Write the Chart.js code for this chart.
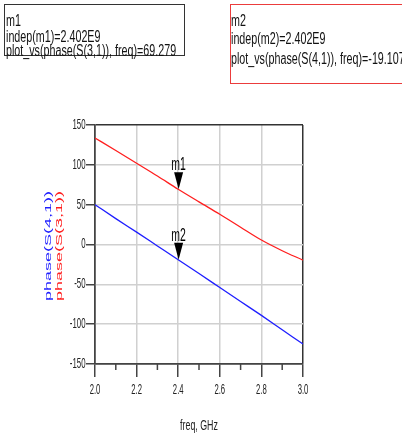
<!DOCTYPE html>
<html>
<head>
<meta charset="utf-8">
<script src="https://cdn.jsdelivr.net/npm/chart.js@4"></script>
<style>
  body { margin: 0; background: #fff; }
  #wrap { position: relative; width: 402px; height: 436px; overflow: hidden; }
  #chart { position: absolute; left: 0; top: 0; }
  .box { position: absolute; box-sizing: border-box; }
  .box div {
    position: absolute; white-space: nowrap; color: #111;
    font: 16px "Liberation Sans", Arial, sans-serif; line-height: 16px;
    transform: scaleX(0.67); transform-origin: 0 0;
  }
</style>
</head>
<body>
<div id="wrap">
  <canvas id="chart" width="402" height="436"></canvas>
  <div class="box" style="left:4px;top:4px;width:181px;height:52px;border:1.5px solid #333;">
    <div style="left:0.5px;top:8.2px">m1</div>
    <div style="left:0.5px;top:24.2px">indep(m1)=2.402E9</div>
    <div style="left:0.5px;top:38.2px">plot_vs(phase(S(3,1)), freq)=69.279</div>
  </div>
  <div class="box" style="left:230px;top:4px;width:200px;height:80px;border:1.5px solid rgb(235,60,60);">
    <div style="left:0;top:8.2px">m2</div>
    <div style="left:0;top:26.2px">indep(m2)=2.402E9</div>
    <div style="left:0;top:46.2px">plot_vs(phase(S(4,1)), freq)=-19.107</div>
  </div>
</div>
<script>
// frequency points (GHz) and the two traces
const freqs = [2.0, 2.1, 2.2, 2.3, 2.4, 2.5, 2.6, 2.7, 2.8, 2.9, 3.0];
const phaseS31 = [133.7, 118, 102, 86, 69.3, 53.5, 38, 21.7, 5.6, -7.8, -19.6];
const phaseS41 = [50, 32.5, 15.5, -1.8, -19.1, -36.5, -54, -71.5, -89, -107, -125];

const minorFreqTicks = [2.1, 2.3, 2.5, 2.7, 2.9];

const markerNames = ["m1", "m2"];
const markerFreqs = [2.402, 2.402];
const markerValues = [69.279, -19.107];

const RED = "rgb(255,30,30)";
const BLUE = "rgb(30,30,255)";
const FONT = '"Liberation Sans", Arial, sans-serif';

function squeezeText(ctx, text, x, y, sx, align) {
  ctx.save();
  ctx.translate(x, y);
  ctx.scale(sx, 1);
  ctx.textAlign = align;
  ctx.fillText(text, 0, 0);
  ctx.restore();
}

const adsPlugin = {
  id: "adsLook",
  afterDatasetsDraw(chart) {
    const ctx = chart.ctx;
    const xs = chart.scales.x;
    const ys = chart.scales.y;
    ctx.save();
    ctx.fillStyle = "#000";
    ctx.font = "19px " + FONT;
    ctx.textBaseline = "alphabetic";
    markerNames.forEach((name, i) => {
      const px = xs.getPixelForValue(markerFreqs[i]);
      const py = ys.getPixelForValue(markerValues[i]);
      ctx.beginPath();
      ctx.moveTo(px, py);
      ctx.lineTo(px - 4.5, py - 17);
      ctx.lineTo(px + 4.5, py - 17);
      ctx.closePath();
      ctx.fill();
      squeezeText(ctx, name, px, py - 19, 0.55, "center");
    });
    ctx.restore();
  },
  afterDraw(chart) {
    const ctx = chart.ctx;
    const xs = chart.scales.x;
    const ys = chart.scales.y;
    ctx.save();
    // minor ticks on the freq axis
    ctx.strokeStyle = "#444";
    ctx.lineWidth = 1.5;
    minorFreqTicks.forEach((f) => {
      const px = xs.getPixelForValue(f);
      ctx.beginPath();
      ctx.moveTo(px, ys.bottom);
      ctx.lineTo(px, ys.bottom + 6);
      ctx.stroke();
    });
    // tick labels
    ctx.fillStyle = "#222";
    ctx.font = "14px " + FONT;
    ctx.textBaseline = "middle";
    ys.ticks.forEach((t, i) => {
      squeezeText(ctx, String(t.value), xs.left - 9.5, ys.getPixelForTick(i), 0.56, "right");
    });
    xs.ticks.forEach((t, i) => {
      squeezeText(ctx, t.value.toFixed(1), xs.getPixelForTick(i), 390, 0.55, "center");
    });
    // axis titles
    ctx.font = "15px " + FONT;
    squeezeText(ctx, "freq, GHz", (xs.left + xs.right) / 2, 426, 0.59, "center");
    ctx.font = "18px " + FONT;
    [["phase(S(4,1))", BLUE, 48.4], ["phase(S(3,1))", RED, 58.9]].forEach(([txt, col, cx]) => {
      ctx.save();
      ctx.translate(cx, 246);
      ctx.rotate(-Math.PI / 2);
      ctx.scale(1, 0.55);
      ctx.fillStyle = col;
      ctx.textAlign = "center";
      ctx.fillText(txt, 0, 0);
      ctx.restore();
    });
    ctx.restore();
  },
};

const edge = (v, a, b) => Math.abs(v - a) < 1e-6 || Math.abs(v - b) < 1e-6;

new Chart(document.getElementById("chart"), {
  type: "line",
  data: {
    labels: freqs,
    datasets: [
      {
        label: "phase(S(3,1))",
        data: freqs.map((f, i) => ({ x: f, y: phaseS31[i] })),
        borderColor: RED,
        borderWidth: 1.3,
        pointRadius: 0,
        cubicInterpolationMode: "monotone",
      },
      {
        label: "phase(S(4,1))",
        data: freqs.map((f, i) => ({ x: f, y: phaseS41[i] })),
        borderColor: BLUE,
        borderWidth: 1.3,
        pointRadius: 0,
        cubicInterpolationMode: "monotone",
      },
    ],
  },
  options: {
    responsive: false,
    animation: false,
    layout: { padding: { left: 0, right: 99, top: 125, bottom: 0 } },
    plugins: { legend: { display: false }, tooltip: { enabled: false } },
    scales: {
      x: {
        type: "linear",
        min: 2.0,
        max: 3.0,
        afterFit: (s) => { s.height = 72; },
        ticks: { stepSize: 0.2, display: false },
        border: { display: true, color: "#444", width: 1.5 },
        grid: {
          color: (c) => (c.tick && edge(c.tick.value, 2.0, 3.0) ? "#333" : "#d0d0d0"),
          lineWidth: 1.5,
          tickColor: "#444",
          tickLength: 13,
        },
      },
      y: {
        min: -150,
        max: 150,
        afterFit: (s) => { s.width = 95; },
        ticks: { stepSize: 50, display: false },
        border: { display: true, color: "#444", width: 1.5 },
        grid: {
          color: (c) => (c.tick && edge(c.tick.value, 150, -150) ? "#333" : "#d0d0d0"),
          lineWidth: 1.5,
          tickColor: "#444",
          tickLength: 9,
        },
      },
    },
  },
  plugins: [adsPlugin],
});
</script>
</body>
</html>
